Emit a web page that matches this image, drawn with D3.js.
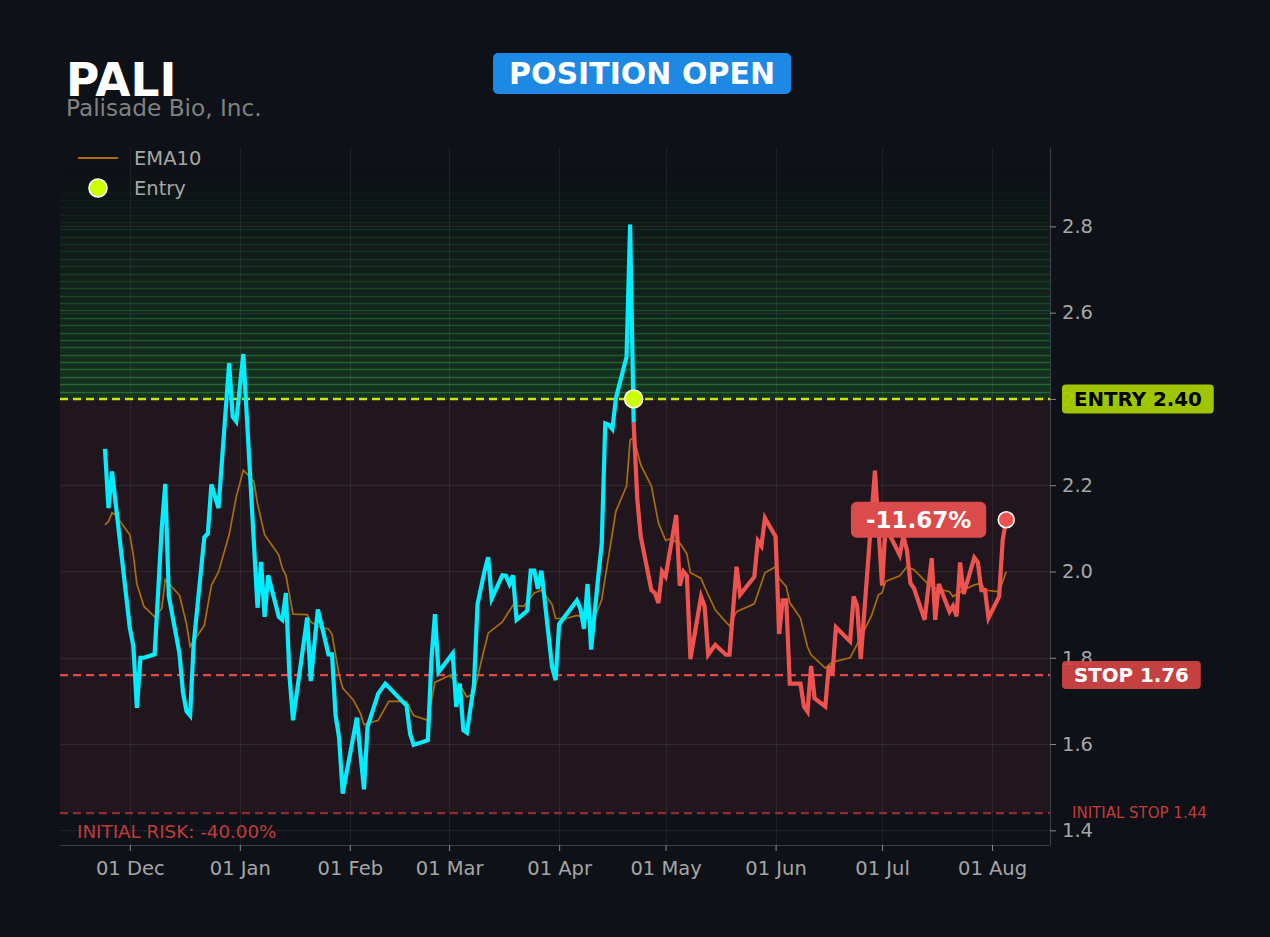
<!DOCTYPE html>
<html><head><meta charset="utf-8">
<script src="https://cdn.jsdelivr.net/npm/d3@7"></script>
<style>
body{margin:0;background:#0e1117;}
svg{display:block;font-family:"DejaVu Sans",sans-serif;}
</style>
</head><body>
<svg id="chart" width="1270" height="937"></svg>
<script>
// ---------------- DATA ----------------
const ticker = "PALI";
const companyName = "Palisade Bio, Inc.";
const statusLabel = "POSITION OPEN";
const entryPrice = 2.40;
const stopPrice = 1.76;
const initialStop = 1.44;
const entryDate = "2025-04-22";

const priceDates = [
"2024-11-24","2024-11-25","2024-11-26","2024-12-01","2024-12-02","2024-12-03","2024-12-04","2024-12-05","2024-12-08","2024-12-10",
"2024-12-11","2024-12-12","2024-12-15","2024-12-16","2024-12-17","2024-12-18","2024-12-19","2024-12-22","2024-12-23","2024-12-24",
"2024-12-26","2024-12-29","2024-12-30","2024-12-31","2025-01-02","2025-01-06","2025-01-07","2025-01-08","2025-01-09","2025-01-12",
"2025-01-13","2025-01-14","2025-01-15","2025-01-16","2025-01-20","2025-01-21","2025-01-23","2025-01-26","2025-01-27","2025-01-28",
"2025-01-29","2025-01-30","2025-02-03","2025-02-05","2025-02-06","2025-02-09","2025-02-11","2025-02-17","2025-02-18","2025-02-19",
"2025-02-23","2025-02-24","2025-02-25","2025-02-26","2025-03-02","2025-03-03","2025-03-04","2025-03-05","2025-03-06","2025-03-08",
"2025-03-09","2025-03-11","2025-03-12","2025-03-13","2025-03-16","2025-03-17","2025-03-18","2025-03-19","2025-03-20","2025-03-23",
"2025-03-24","2025-03-25","2025-03-26","2025-03-27","2025-03-30","2025-03-31","2025-04-01","2025-04-06","2025-04-07","2025-04-08",
"2025-04-09","2025-04-10","2025-04-12","2025-04-13","2025-04-14","2025-04-15","2025-04-16","2025-04-17","2025-04-20","2025-04-21",
"2025-04-22","2025-04-23","2025-04-24","2025-04-27","2025-04-28","2025-04-29","2025-04-30","2025-05-01","2025-05-04","2025-05-05",
"2025-05-06","2025-05-07","2025-05-08","2025-05-11","2025-05-12","2025-05-13","2025-05-15","2025-05-18","2025-05-19","2025-05-21",
"2025-05-22","2025-05-26","2025-05-27","2025-05-28","2025-05-29","2025-06-01","2025-06-02","2025-06-03","2025-06-04","2025-06-05",
"2025-06-08","2025-06-09","2025-06-10","2025-06-11","2025-06-12","2025-06-15","2025-06-16","2025-06-17","2025-06-18","2025-06-22",
"2025-06-23","2025-06-24","2025-06-25","2025-06-29","2025-07-01","2025-07-02","2025-07-06","2025-07-07","2025-07-08","2025-07-09",
"2025-07-10","2025-07-13","2025-07-15","2025-07-16","2025-07-17","2025-07-20","2025-07-21","2025-07-22","2025-07-23","2025-07-24",
"2025-07-27","2025-07-28","2025-07-29","2025-07-30","2025-07-31","2025-08-03","2025-08-04","2025-08-05"
];
const priceCloses = [
2.284,2.147,2.232,1.870,1.828,1.684,1.800,1.800,1.808,2.100,
2.203,1.943,1.810,1.719,1.676,1.666,1.831,2.079,2.088,2.202,
2.147,2.483,2.359,2.348,2.504,1.916,2.022,1.895,1.991,1.895,
1.888,1.950,1.759,1.655,1.893,1.746,1.912,1.808,1.808,1.666,
1.614,1.485,1.661,1.495,1.640,1.717,1.740,1.689,1.624,1.598,
1.609,1.795,1.901,1.767,1.810,1.686,1.740,1.632,1.626,1.738,
1.924,2.002,2.033,1.937,1.991,1.990,1.971,1.991,1.888,1.909,
2.002,2.002,1.960,2.002,1.779,1.748,1.878,1.933,1.914,1.867,
1.971,1.819,1.986,2.064,2.343,2.340,2.330,2.402,2.498,2.804,
2.345,2.170,2.081,1.957,1.950,1.927,2.000,1.988,2.131,1.967,
2.000,1.990,1.797,1.942,1.919,1.807,1.830,1.807,1.807,2.011,
1.946,1.988,2.071,2.059,2.124,2.081,1.855,1.933,1.933,1.740,
1.740,1.687,1.675,1.781,1.706,1.687,1.781,1.760,1.871,1.838,
1.942,1.919,1.797,2.234,1.967,2.104,2.038,2.082,2.050,1.973,
1.961,1.888,2.031,1.888,1.971,1.907,1.920,1.896,2.021,1.948,
2.032,2.021,1.957,1.957,1.892,1.942,2.073,2.120
];

const emaDates = [
"2024-11-24","2024-11-25","2024-11-26","2024-11-27","2024-12-01","2024-12-02","2024-12-03","2024-12-05","2024-12-08","2024-12-10",
"2024-12-11","2024-12-15","2024-12-17","2024-12-18","2024-12-22","2024-12-24","2024-12-26","2024-12-29","2024-12-31","2025-01-02",
"2025-01-05","2025-01-06","2025-01-08","2025-01-12","2025-01-13","2025-01-14","2025-01-16","2025-01-20","2025-01-21","2025-01-23",
"2025-01-26","2025-01-27","2025-01-29","2025-01-30","2025-02-02","2025-02-04","2025-02-05","2025-02-09","2025-02-12","2025-02-17",
"2025-02-19","2025-02-23","2025-02-25","2025-03-01","2025-03-04","2025-03-06","2025-03-08","2025-03-10","2025-03-12","2025-03-16",
"2025-03-19","2025-03-22","2025-03-25","2025-03-27","2025-03-30","2025-03-31","2025-04-03","2025-04-06","2025-04-10","2025-04-12",
"2025-04-13","2025-04-17","2025-04-20","2025-04-21","2025-04-22","2025-04-24","2025-04-27","2025-04-29","2025-05-01","2025-05-02",
"2025-05-05","2025-05-07","2025-05-08","2025-05-11","2025-05-12","2025-05-15","2025-05-17","2025-05-19","2025-05-21","2025-05-26",
"2025-05-29","2025-06-01","2025-06-02","2025-06-04","2025-06-05","2025-06-08","2025-06-10","2025-06-11","2025-06-15","2025-06-17",
"2025-06-22","2025-06-25","2025-06-28","2025-06-30","2025-07-01","2025-07-02","2025-07-06","2025-07-08","2025-07-10","2025-07-14",
"2025-07-16","2025-07-20","2025-07-21","2025-07-24","2025-07-27","2025-07-29","2025-07-30","2025-08-03","2025-08-05"
];
const emaValues = [
2.108,2.116,2.136,2.131,2.085,2.038,1.971,1.919,1.895,1.914,
1.981,1.945,1.878,1.826,1.875,1.968,1.999,2.085,2.173,2.235,
2.209,2.157,2.085,2.038,2.007,1.991,1.901,1.900,1.883,1.873,
1.867,1.854,1.760,1.730,1.702,1.671,1.645,1.655,1.699,1.699,
1.666,1.655,1.743,1.759,1.738,1.709,1.717,1.790,1.857,1.883,
1.922,1.919,1.950,1.957,1.924,1.891,1.891,1.898,1.891,1.912,
1.935,2.140,2.198,2.305,2.311,2.247,2.198,2.112,2.072,2.075,
2.066,2.041,1.997,1.984,1.964,1.911,1.892,1.874,1.907,1.925,
1.997,2.011,1.984,1.965,1.928,1.892,1.825,1.807,1.776,1.790,
1.800,1.848,1.897,1.946,1.951,1.977,1.990,2.011,2.004,1.971,
1.961,1.953,1.942,1.957,1.969,1.973,1.957,1.953,2.000
];

const yTicks = [1.4, 1.6, 1.8, 2.0, 2.2, 2.4, 2.6, 2.8];
const xTickDates = ["2024-12-01","2025-01-01","2025-02-01","2025-03-01","2025-04-01","2025-05-01","2025-06-01","2025-07-01","2025-08-01"];
const xDomain = ["2024-11-11 08","2025-08-17 08"];
const yDomain = [1.366, 2.984];
const profitZoneTop = 2.93;

// ---------------- DRAW ----------------
const parse = d3.timeParse("%Y-%m-%d");
const parseH = d3.timeParse("%Y-%m-%d %H");
const svg = d3.select("#chart");
const L = 60, R = 1050, T = 147, B = 845;

const x = d3.scaleTime().domain(xDomain.map(parseH)).range([L, R]);
const y = d3.scaleLinear().domain(yDomain).range([B, T]);

const prices = priceDates.map((d, i) => ({date: parse(d), v: priceCloses[i]}));
const ema = emaDates.map((d, i) => ({date: parse(d), v: emaValues[i]}));
const eDate = parse(entryDate);
const pre = prices.filter(p => p.date <= eDate);
const post = prices.filter(p => p.date >= eDate);
const last = prices[prices.length - 1];

svg.append("rect").attr("width", 1270).attr("height", 937).attr("fill", "#0e1117");

// risk zone (entry -> initial stop)
svg.append("rect")
  .attr("x", L).attr("width", R - L)
  .attr("y", y(entryPrice)).attr("height", y(initialStop) - y(entryPrice))
  .attr("fill", "#21161d");

// profit zone bands
const nBands = 31;
const step = (profitZoneTop - entryPrice) / nBands;
const bands = d3.range(nBands).map(i => ({lo: entryPrice + i * step, hi: entryPrice + (i + 1) * step, t: i / nBands}));
const gz = svg.append("g");
gz.selectAll("rect").data(bands).join("rect")
  .attr("x", L).attr("width", R - L)
  .attr("y", d => y(d.hi)).attr("height", d => y(d.lo) - y(d.hi))
  .attr("fill", "#2e9a3c")
  .attr("fill-opacity", d => 0.24 * Math.pow(1 - d.t, 1.1));
gz.selectAll("line").data(bands).join("line")
  .attr("x1", L).attr("x2", R)
  .attr("y1", d => Math.round(y(d.hi)) + 0.5).attr("y2", d => Math.round(y(d.hi)) + 0.5)
  .attr("stroke", "#36b846").attr("stroke-width", 1.6)
  .attr("stroke-opacity", d => 0.45 * Math.pow(1 - d.t, 1.1));

// grid
const grid = svg.append("g").attr("stroke", "#ffffff").attr("stroke-opacity", 0.07).attr("stroke-width", 1);
grid.selectAll(".vx").data(xTickDates.map(parse)).join("line")
  .attr("x1", d => Math.round(x(d)) + 0.5).attr("x2", d => Math.round(x(d)) + 0.5)
  .attr("y1", T).attr("y2", B);
grid.selectAll(".hy").data(yTicks).join("line")
  .attr("x1", L).attr("x2", R)
  .attr("y1", d => Math.round(y(d)) + 0.5).attr("y2", d => Math.round(y(d)) + 0.5);

// level lines
function level(v, color, w) {
  svg.append("line").attr("x1", L).attr("x2", R).attr("y1", y(v)).attr("y2", y(v))
    .attr("stroke", color).attr("stroke-width", w).attr("stroke-dasharray", "8,5");
}
level(initialStop, "#8e2e33", 2.2);
level(stopPrice, "#e04a4a", 2.2);
level(entryPrice, "#c8e600", 2.4);

// EMA
const line = d3.line().x(d => x(d.date)).y(d => y(d.v));
svg.append("path").datum(ema).attr("d", line)
  .attr("fill", "none").attr("stroke", "#a86d0c").attr("stroke-width", 1.7);

// price
svg.append("path").datum(pre).attr("d", line)
  .attr("fill", "none").attr("stroke", "#00eeff").attr("stroke-width", 4.2);
svg.append("path").datum(post).attr("d", line)
  .attr("fill", "none").attr("stroke", "#ef5350").attr("stroke-width", 4.2);

// markers
svg.append("circle").attr("cx", x(eDate)).attr("cy", y(entryPrice)).attr("r", 9)
  .attr("fill", "#ccff00").attr("stroke", "#ffffff").attr("stroke-width", 1.6);
svg.append("circle").attr("cx", x(last.date)).attr("cy", y(last.v)).attr("r", 8)
  .attr("fill", "#ef5350").attr("stroke", "#ffffff").attr("stroke-width", 1.6);

// axes
const yAxis = svg.append("g").attr("transform", `translate(${R},0)`)
  .call(d3.axisRight(y).tickValues(yTicks).tickFormat(d3.format(".1f")).tickSize(6).tickSizeOuter(0).tickPadding(6));
const xAxis = svg.append("g").attr("transform", `translate(0,${B})`)
  .call(d3.axisBottom(x).tickValues(xTickDates.map(parse)).tickFormat(d3.timeFormat("%d %b")).tickSize(6).tickSizeOuter(0).tickPadding(10));
[yAxis, xAxis].forEach(g => {
  g.select(".domain").attr("stroke", "#3a3e46").attr("stroke-width", 1.2);
  g.selectAll(".tick line").attr("stroke", "#8a8a8a");
  g.selectAll(".tick text").attr("fill", "#a6a6a6").attr("font-size", 19.5).attr("font-family", "DejaVu Sans");
});
xAxis.select(".domain").attr("d", `M${L},0.5H${R}`);

// titles
svg.append("text").attr("x", 66).attr("y", 96).text(ticker)
  .attr("fill", "#ffffff").attr("font-weight", "bold").attr("font-size", 45.5);
svg.append("text").attr("x", 66).attr("y", 116).text(companyName)
  .attr("fill", "#808080").attr("font-size", 23.2);
svg.append("rect").attr("x", 493).attr("y", 53).attr("width", 298).attr("height", 41).attr("rx", 5)
  .attr("fill", "#1e88e5");
svg.append("text").attr("x", 642).attr("y", 84).attr("text-anchor", "middle").text(statusLabel)
  .attr("fill", "#ffffff").attr("font-weight", "bold").attr("font-size", 30);

// legend
svg.append("line").attr("x1", 78).attr("x2", 118).attr("y1", 158).attr("y2", 158)
  .attr("stroke", "#a86d0c").attr("stroke-width", 2);
svg.append("text").attr("x", 134).attr("y", 158).attr("dy", "0.35em").text("EMA10")
  .attr("fill", "#a6a6a6").attr("font-size", 19.5);
svg.append("circle").attr("cx", 98).attr("cy", 188).attr("r", 9)
  .attr("fill", "#ccff00").attr("stroke", "#ffffff").attr("stroke-width", 1.6);
svg.append("text").attr("x", 134).attr("y", 188).attr("dy", "0.35em").text("Entry")
  .attr("fill", "#a6a6a6").attr("font-size", 19.5);

// right labels
function badge(v, label, bg, fg, h) {
  const g = svg.append("g");
  const r = g.append("rect").attr("x", 1062).attr("y", y(v) - h / 2).attr("height", h).attr("rx", 4)
    .attr("fill", bg).attr("fill-opacity", 0.95);
  const t = g.append("text").attr("x", 1074).attr("y", y(v)).attr("dy", "0.36em").text(label)
    .attr("fill", fg).attr("font-weight", "bold").attr("font-size", 19.8);
  r.attr("width", t.node().getComputedTextLength() + 24);
}
badge(entryPrice, `ENTRY ${entryPrice.toFixed(2)}`, "#a8d000", "#000000", 29);
badge(stopPrice, `STOP ${stopPrice.toFixed(2)}`, "#d04343", "#ffffff", 28);

svg.append("text").attr("x", 1072).attr("y", y(initialStop)).attr("dy", "0.35em")
  .text(`INITIAL STOP ${initialStop.toFixed(2)}`).attr("fill", "#c23b3b").attr("font-size", 15);
const risk = (initialStop / entryPrice - 1) * 100;
svg.append("text").attr("x", 77).attr("y", 838)
  .text(`INITIAL RISK: ${risk.toFixed(2)}%`).attr("fill", "#c23b3b").attr("font-size", 18.3);

// P&L label
const pnl = (last.v / entryPrice - 1) * 100;
const pg = svg.append("g");
const pr = pg.append("rect").attr("height", 36).attr("rx", 6).attr("fill", "#dc4b4b");
const pt = pg.append("text").attr("y", y(last.v)).attr("dy", "0.36em").attr("text-anchor", "middle")
  .text(`${pnl.toFixed(2)}%`).attr("fill", "#ffffff").attr("font-weight", "bold").attr("font-size", 23);
const pw = pt.node().getComputedTextLength() + 30;
const pRight = x(last.date) - 20;
pr.attr("x", pRight - pw).attr("y", y(last.v) - 18).attr("width", pw);
pt.attr("x", pRight - pw / 2);
</script>
</body></html>
